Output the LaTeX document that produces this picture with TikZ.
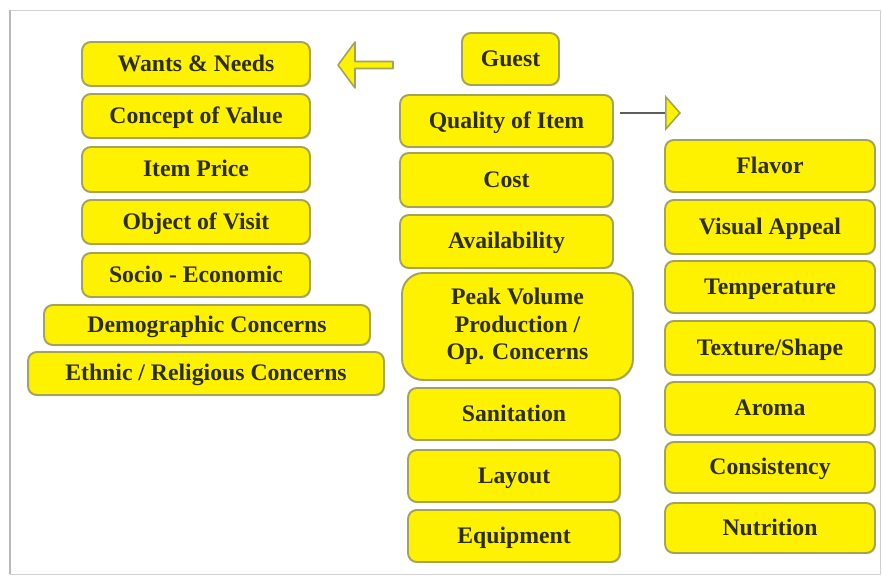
\documentclass[tikz,border=0pt]{standalone}
\usepackage{fontspec}
\setmainfont{Liberation Serif}
\usepackage{tikz}
\usepackage{xcolor}
\usetikzlibrary{arrows.meta,shadows}
\definecolor{boxline}{HTML}{A3A35A}
\definecolor{boxtext}{HTML}{2E2E05}
\definecolor{shaftgray}{HTML}{5C5C5C}

\begin{document}
\begin{tikzpicture}[x=0.02cm,y=-0.02cm,every node/.style={font=\fontsize{13.5}{15.5}\selectfont\bfseries},
  boxbase/.style={draw=boxline,line width=1.1pt,fill=yellow,rounded corners=5pt,text=boxtext,inner sep=2pt,
    drop shadow={opacity=0.18,shadow xshift=0.6pt,shadow yshift=-0.8pt}},
  box/.style={boxbase,text height=9pt,text depth=0.5pt}]
\useasboundingbox (0,0) rectangle (882,577);
\draw[gray!35] (10,10) rectangle (880,574);
\draw[gray!55,line width=1pt] (10,10) -- (10,574);
% guest side
\node[box,minimum width=4.56cm,minimum height=0.88cm] (wants) at (196,64) {Wants \& Needs};
\node[box,minimum width=4.56cm,minimum height=0.88cm] (concept) at (196,116) {Concept of Value};
\node[box,minimum width=4.56cm,minimum height=0.9cm] (price) at (196,169.5) {Item Price};
\node[box,minimum width=4.56cm,minimum height=0.88cm] (visit) at (196,222) {Object of Visit};
\node[box,minimum width=4.56cm,minimum height=0.88cm] (socio) at (196,275) {Socio - Economic};
\node[box,minimum width=6.52cm,minimum height=0.8cm] (demo) at (207,325) {Demographic Concerns};
\node[box,minimum width=7.12cm,minimum height=0.86cm] (ethnic) at (206,373.5) {Ethnic / Religious Concerns};
% middle column
\node[box,minimum width=1.94cm,minimum height=1.04cm] (guest) at (510.5,59) {Guest};
\node[box,minimum width=4.26cm,minimum height=1.04cm] (quality) at (506.5,121) {Quality of Item};
\node[box,minimum width=4.26cm,minimum height=1.08cm] (cost) at (506.5,180) {Cost};
\node[box,minimum width=4.26cm,minimum height=1.06cm] (avail) at (506.5,241.5) {Availability};
\node[boxbase,align=center,rounded corners=12pt,minimum width=4.62cm,minimum height=2.14cm] (peak) at (517.5,326.5) {Peak Volume\\Production /\\Op. Concerns};
\node[box,minimum width=4.24cm,minimum height=1.04cm] (sanit) at (514,414) {Sanitation};
\node[box,minimum width=4.24cm,minimum height=1.04cm] (layout) at (514,476) {Layout};
\node[box,minimum width=4.24cm,minimum height=1.04cm] (equip) at (514,536) {Equipment};
% item side
\node[box,minimum width=4.2cm,minimum height=1.04cm] (flavor) at (770,166) {Flavor};
\node[box,minimum width=4.2cm,minimum height=1.08cm] (visual) at (770,227) {Visual Appeal};
\node[box,minimum width=4.2cm,minimum height=1.04cm] (temp) at (770,287) {Temperature};
\node[box,minimum width=4.2cm,minimum height=1.08cm] (texture) at (770,348) {Texture/Shape};
\node[box,minimum width=4.2cm,minimum height=1.06cm] (aroma) at (770,408.5) {Aroma};
\node[box,minimum width=4.2cm,minimum height=1.02cm] (consist) at (770,467.5) {Consistency};
\node[box,minimum width=4.2cm,minimum height=1.0cm] (nutri) at (770,528) {Nutrition};
% arrows
\coordinate (gtail) at (393,65);
\coordinate (gtip) at (338,65);
\filldraw[draw=boxline,fill=yellow,line width=0.9pt,line join=round] (gtail) ++(0,3.5) -- ++(-38,0) -- ++(0,19.5) -- (gtip) -- ++(17,-23) -- ++(0,19.5) -- ++(38,0) -- cycle;
\coordinate (qtail) at (620,113);
\coordinate (qtip) at (681,113);
\draw[shaftgray,line width=1.2pt,-{Triangle[length=0.32cm,width=0.72cm,color=boxline,fill=yellow,line width=0.9pt]}] (qtail) -- (qtip);
\end{tikzpicture}
\end{document}
